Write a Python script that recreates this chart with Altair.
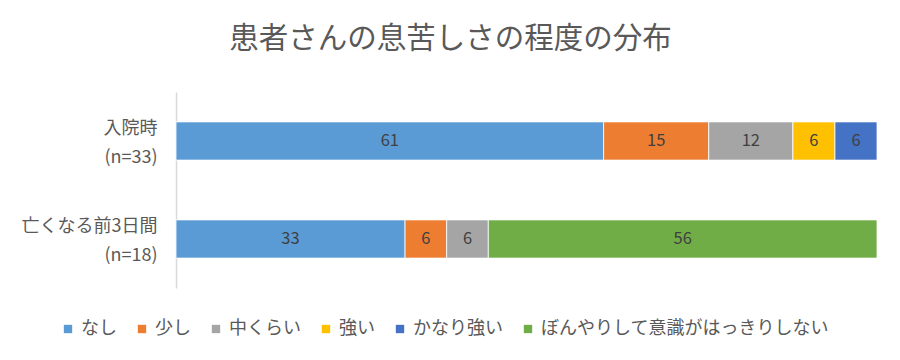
import altair as alt
import pandas as pd

categories = ["入院時\n(n=33)", "亡くなる前3日間\n(n=18)"]
levels = ["なし", "少し", "中くらい", "強い", "かなり強い", "ぼんやりして意識がはっきりしない"]
colors = ["#5B9BD5", "#ED7D31", "#A5A5A5", "#FFC000", "#4472C4", "#70AD47"]
admission = [61, 15, 12, 6, 6, 0]
last3days = [33, 6, 6, 0, 0, 56]

rows = []
for cat, vals in zip(categories, [admission, last3days]):
    for i, (lev, v) in enumerate(zip(levels, vals)):
        if v > 0:
            rows.append({"group": cat, "level": lev, "order": i, "value": v})
df = pd.DataFrame(rows)

FONT = "Noto Sans CJK JP"

base = alt.Chart(df).transform_stack(
    stack="value", groupby=["group"], as_=["x0", "x1"],
    offset="normalize", sort=[alt.SortField("order", order="ascending")]
).transform_calculate(mid="(datum.x0 + datum.x1) / 2")

y_enc = alt.Y("group:N", sort=categories,
              scale=alt.Scale(paddingInner=0.61, paddingOuter=0.305),
              axis=alt.Axis(title=None, labelExpr="split(datum.label, '\\n')",
                            labelFont=FONT, labelFontSize=18, labelColor="#595959",
                            labelLineHeight=29, labelPadding=19, ticks=False,
                            labelOffset=-12,
                            domainColor="#D9D9D9", domainWidth=1.5, labelAlign="right",
                            labelBaseline="middle"))

bars = base.mark_bar(stroke="white", strokeWidth=0.8).encode(
    x=alt.X("x0:Q", axis=None, scale=alt.Scale(domain=[0, 1], nice=False)),
    x2="x1:Q",
    y=y_enc,
    color=alt.Color("level:N", sort=levels,
                    scale=alt.Scale(domain=levels, range=colors),
                    legend=alt.Legend(title=None, orient="none", direction="horizontal",
                                      legendX=-117, legendY=228,
                                      symbolType="square", symbolSize=70,
                                      symbolStrokeWidth=0, symbolOpacity=1,
                                      labelFont=FONT, labelFontSize=18, labelColor="#595959",
                                      labelLimit=500,
                                      columnPadding=16, labelOffset=4)),
    order=alt.Order("order:Q"),
)

labels = base.mark_text(font=FONT, fontSize=16.5, color="#404040").encode(
    x=alt.X("mid:Q"),
    y=alt.Y("group:N", sort=categories),
    text=alt.Text("value:Q"),
)

chart = alt.layer(bars, labels).properties(
    width=701, height=196,
    padding={"left": 168, "top": 84, "right": 15, "bottom": 60},
    autosize=alt.AutoSizeParams(type="none"),
    title=alt.TitleParams("患者さんの息苦しさの程度の分布", font=FONT, fontSize=29.5,
                          fontWeight="normal", color="#595959", anchor="middle",
                          frame="group", dx=-76, offset=38),
).configure_view(stroke=None)

chart.save("out.html", embed_options={"renderer": "svg", "actions": False})
